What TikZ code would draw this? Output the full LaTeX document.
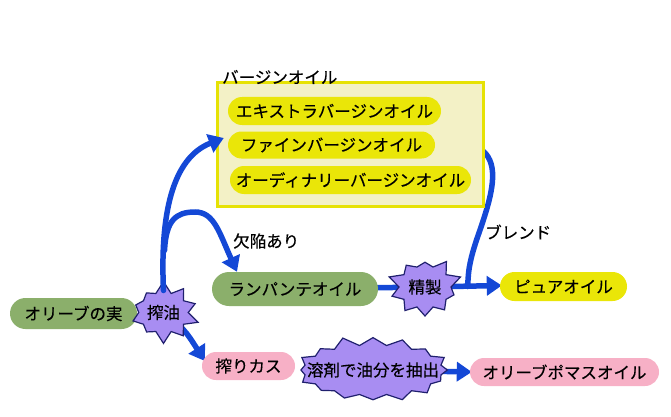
\documentclass[tikz,border=0pt]{standalone}
\usepackage{fontspec}
\setmainfont{Noto Sans CJK JP}[FakeBold=0.35]
\usetikzlibrary{shapes.symbols,shapes.misc,arrows.meta,backgrounds,calc}
\definecolor{arrowblue}{HTML}{1448D6}
\definecolor{pillgreen}{HTML}{8BAF6B}
\definecolor{pillpink}{HTML}{F7B0C6}
\definecolor{pillyellow}{HTML}{EAE608}
\definecolor{boxfill}{HTML}{F3F1C6}
\definecolor{boxline}{HTML}{E6E204}
\definecolor{burstfill}{HTML}{A88DF2}
\definecolor{burstline}{HTML}{20206E}
\tikzset{
  lbl/.style={font=\fontsize{16.5}{19}\selectfont, text=black},
  pill/.style={rounded rectangle, lbl, inner sep=0pt, minimum height=28pt},
  greenpill/.style={pill, fill=pillgreen},
  pinkpill/.style={pill, fill=pillpink},
  yellowpill/.style={pill, fill=pillyellow},
  burst/.style={starburst, starburst points=10, starburst point height=12pt,
    random starburst=7, fill=burstfill, draw=burstline, line width=1.2pt,
    lbl, inner sep=1pt},
  flow/.style={draw=arrowblue, line width=5.5pt, line cap=round},
  flowarrow/.style={flow, -{Triangle[length=15pt,width=19pt]}},
}
\begin{document}
\begin{tikzpicture}[x=1pt,y=-1pt]
\useasboundingbox (0,0) rectangle (671,417);
% virgin oil box
\node[draw=boxline, fill=boxfill, line width=3pt, minimum width=266pt,
      minimum height=123pt, inner sep=0pt] (vbox) at (350,144.5) {};
\node[lbl, anchor=west, inner sep=0pt] (vtitle) at (222,77) {バージンオイル};
\node[yellowpill, minimum width=213pt] (ev) at (334.5,111) {エキストラバージンオイル};
\node[yellowpill, minimum width=207pt, minimum height=27pt] (fv) at (331.5,145) {ファインバージンオイル};
\node[yellowpill, minimum width=241pt] (ov) at (350.5,180) {オーディナリーバージンオイル};
% other nodes
\node[greenpill, minimum width=127pt, minimum height=31pt] (fruit) at (73.5,313.5) {オリーブの実};
\node[burst, minimum width=70pt, minimum height=64pt] (sakuyu) at (163.5,312.5) {搾油};
\node[greenpill, minimum width=166pt, minimum height=34pt] (lamp) at (295,289) {ランパンテオイル};
\node[burst, minimum width=76pt, minimum height=66pt, random starburst=3] (seisei) at (425,287) {精製};
\node[yellowpill, minimum width=127pt, minimum height=29pt] (pure) at (563.5,286.5) {ピュアオイル};
\node[pinkpill, minimum width=93pt] (kasu) at (248.5,366) {搾りカス};
\node[burst, inner xsep=-17pt, inner ysep=10pt, starburst point height=10pt,
      starburst points=16, random starburst=11] (solvent) at (373,370) {溶剤で油分を抽出};
\node[pinkpill, minimum width=189pt] (pomace) at (564.5,372) {オリーブポマスオイル};
% edge labels
\node[lbl, anchor=west, inner sep=0pt] (defect) at (233,241) {欠陥あり};
\node[lbl, anchor=west, inner sep=0pt] (blend) at (485,232) {ブレンド};
% connectors
\begin{scope}[on background layer]
  \draw[flow] (lamp.center) -- (seisei.center);
  \draw[flow] ($(vbox.east)+(-2,6)$) .. controls (500,165) and (492,195) .. (480,230)
      .. controls (470,258) and (468,270) .. ($(pure.west)+(-32,0)$);
  \draw[flowarrow] (seisei.center) -- ($(pure.west)+(2,-1)$);
  \draw[flowarrow] (solvent.center) -- ($(pomace.west)+(2,0)$);
  \draw[flowarrow] (sakuyu.center) .. controls (185,330) .. ($(kasu.west)+(3,-5)$);
\end{scope}
\draw[flowarrow] ($(sakuyu.center)+(0,-22)$) .. controls (160,215) and (172,158) .. ($(fv.west)+(-4,-7)$);
\draw[flowarrow] ($(sakuyu.center)+(1,-62)$) .. controls (166,220) and (176,212) .. (195,212)
    .. controls (214,212) and (219,232) .. ($(lamp.north west)+(8,0)$);
\end{tikzpicture}
\end{document}
